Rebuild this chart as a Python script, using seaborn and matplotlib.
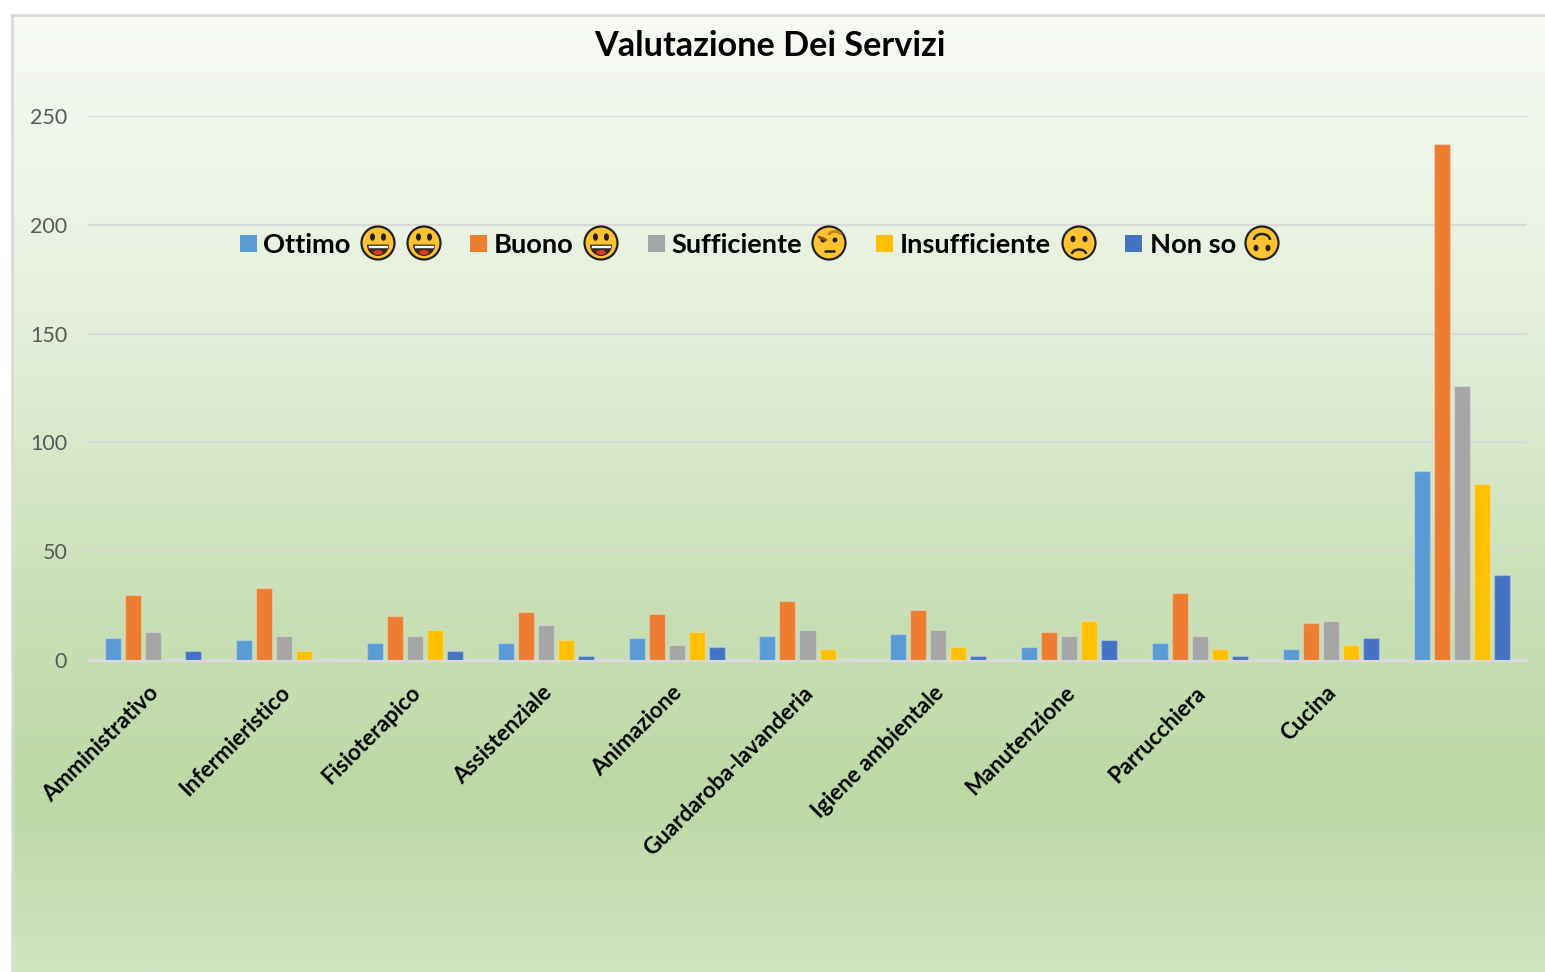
import numpy as np
import pandas as pd
import matplotlib
matplotlib.use('Agg')
import matplotlib.pyplot as plt
from matplotlib.colors import LinearSegmentedColormap
from matplotlib.patches import Circle, Ellipse, Rectangle, Arc, Wedge
from matplotlib.transforms import ScaledTranslation
import seaborn as sns

categories = ['Amministrativo', 'Infermieristico', 'Fisioterapico', 'Assistenziale', 'Animazione',
              'Guardaroba-lavanderia', 'Igiene ambientale', 'Manutenzione', 'Parrucchiera', 'Cucina', ' ']
ottimo = [10, 9, 8, 8, 10, 11, 12, 6, 8, 5, 87]
buono = [30, 33, 20, 22, 21, 27, 23, 13, 31, 17, 237]
sufficiente = [13, 11, 11, 16, 7, 14, 14, 11, 11, 18, 126]
insufficiente = [0, 4, 14, 9, 13, 5, 6, 18, 5, 7, 81]
non_so = [4, 0, 4, 2, 6, 0, 2, 9, 2, 10, 39]

series = ['Ottimo', 'Buono', 'Sufficiente', 'Insufficiente', 'Non so']
colors = ['#5B9BD5', '#ED7D31', '#A5A5A5', '#FFC000', '#4472C4']

W, H = 1545, 972

df = pd.DataFrame({'Servizio': categories, 'Ottimo': ottimo, 'Buono': buono, 'Sufficiente': sufficiente,
                   'Insufficiente': insufficiente, 'Non so': non_so})
long_df = df.melt(id_vars='Servizio', var_name='Giudizio', value_name='Valore')

sns.set_theme(style='white')
plt.rcParams['font.family'] = ['Lato', 'DejaVu Sans']

fig = plt.figure(figsize=(W / 100, H / 100), dpi=100, facecolor='white')

# gradient panel behind the chart
bg = fig.add_axes([12 / W, 0, 1 - 12 / W, 1 - 15 / H], zorder=0)
cmap = LinearSegmentedColormap.from_list('panel', [(0, '#F7FAF5'), (0.3, '#E6F0DD'), (0.62, '#C9E0B6'),
                                                    (0.82, '#BDD9A6'), (1, '#D0E4C0')])
bg.imshow(np.linspace(0, 1, 400).reshape(-1, 1), aspect='auto', cmap=cmap, vmin=0, vmax=1)
bg.set_xticks([])
bg.set_yticks([])
for side in ['right', 'bottom']:
    bg.spines[side].set_visible(False)
for side in ['left', 'top']:
    bg.spines[side].set_color('#D9D9D9')
    bg.spines[side].set_linewidth(2)

ax = fig.add_axes([88 / W, 1 - 660 / H, 1439 / W, 544 / H], zorder=1)
ax.patch.set_alpha(0)
sns.barplot(data=long_df, x='Servizio', y='Valore', hue='Giudizio', hue_order=series, palette=colors,
            width=0.765, gap=0.2, saturation=1, legend=False, edgecolor=(1, 1, 1, 0.25), linewidth=1, ax=ax, zorder=3)
ax.set_ylim(0, 250)
ax.set_xlim(-0.5, len(categories) - 0.5)
ax.set_xlabel('')
ax.set_ylabel('')
ax.set_yticks([0, 50, 100, 150, 200, 250])
ax.grid(axis='y', color='#D9D9D9', linewidth=1.5, zorder=0)
ax.set_axisbelow(True)
ax.tick_params(axis='y', length=0, pad=15, labelsize=15.5, labelcolor='#595959')
ax.tick_params(axis='x', length=0, pad=16)
ax.set_xticks(range(len(categories)))
ax.set_xticklabels(categories, rotation=45, ha='right', rotation_mode='anchor', fontsize=16.2,
                   fontweight='bold', color='black')
# labels sit a little left of where the tick would put them
shift = ScaledTranslation(-5 / 100, 0, fig.dpi_scale_trans)
for lab in ax.get_xticklabels():
    lab.set_transform(lab.get_transform() + shift)
for side in ['top', 'right', 'left']:
    ax.spines[side].set_visible(False)
ax.spines['bottom'].set_color('#D9D9D9')
ax.spines['bottom'].set_linewidth(2.5)

fig.text(770 / W, 1 - 45.5 / H, 'Valutazione Dei Servizi', ha='center', va='center', fontsize=24.7,
         fontweight='bold', color='black', zorder=5)

# overlay in pixels for the legend with the faces
ov = fig.add_axes([0, 0, 1, 1], zorder=4)
ov.set_xlim(0, W)
ov.set_ylim(H, 0)
ov.axis('off')


def face(cx, cy, kind):
    ov.add_patch(Circle((cx, cy), 16.5, facecolor='#FFC233', edgecolor='#222222', linewidth=1.6))
    dark = '#222222'
    if kind == 'grin':
        ov.add_patch(Ellipse((cx - 5.5, cy - 6), 3.6, 6, color=dark))
        ov.add_patch(Ellipse((cx + 5.5, cy - 6), 3.6, 6, color=dark))
        ov.add_patch(Wedge((cx, cy + 2), 10.5, 0, 180, facecolor='#3A2A1A', edgecolor=dark, linewidth=0.6))
        ov.add_patch(Rectangle((cx - 10, cy + 2), 20, 3, facecolor='white', edgecolor=dark, linewidth=0.4))
        ov.add_patch(Ellipse((cx, cy + 9.5), 8, 3.5, color='#D8392B'))
    elif kind == 'raised':
        ov.plot([cx - 10, cx - 3], [cy - 6, cy - 3], color='#8A5A12', lw=2, solid_capstyle='round')
        ov.add_patch(Arc((cx + 6, cy - 8), 12, 7, theta1=180, theta2=360, color='#C77F1A', lw=2))
        ov.add_patch(Circle((cx - 6, cy - 3), 1.8, color=dark))
        ov.add_patch(Circle((cx + 6, cy - 3), 1.8, color=dark))
        ov.plot([cx - 4, cx + 5], [cy + 8, cy + 8], color=dark, lw=1.8, solid_capstyle='round')
    elif kind == 'sad':
        ov.add_patch(Ellipse((cx - 6, cy - 4), 3.6, 5, color=dark))
        ov.add_patch(Ellipse((cx + 6, cy - 4), 3.6, 5, color=dark))
        ov.add_patch(Arc((cx, cy + 11), 14, 9, theta1=180, theta2=360, color=dark, lw=1.8))
    elif kind == 'upside':
        ov.add_patch(Ellipse((cx - 6, cy + 5), 3.6, 5, color=dark))
        ov.add_patch(Ellipse((cx + 6, cy + 5), 3.6, 5, color=dark))
        ov.add_patch(Arc((cx, cy - 3), 16, 12, theta1=180, theta2=360, color=dark, lw=1.8))


square_x = [240, 470, 648, 876, 1125]
label_x = [263, 494, 671, 900, 1150]
faces = [[(378, 'grin'), (424, 'grin')], [(601, 'grin')], [(829, 'raised')], [(1079, 'sad')], [(1262, 'upside')]]
for name, col, sx, lx, fl in zip(series, colors, square_x, label_x, faces):
    ov.add_patch(Rectangle((sx, 234.5), 17, 17, facecolor=col, edgecolor='none'))
    ov.text(lx, 245, name, ha='left', va='center', fontsize=19.6, fontweight='bold', color='black')
    for fx, kind in fl:
        face(fx, 243, kind)

fig.savefig('out.png', dpi=100)
